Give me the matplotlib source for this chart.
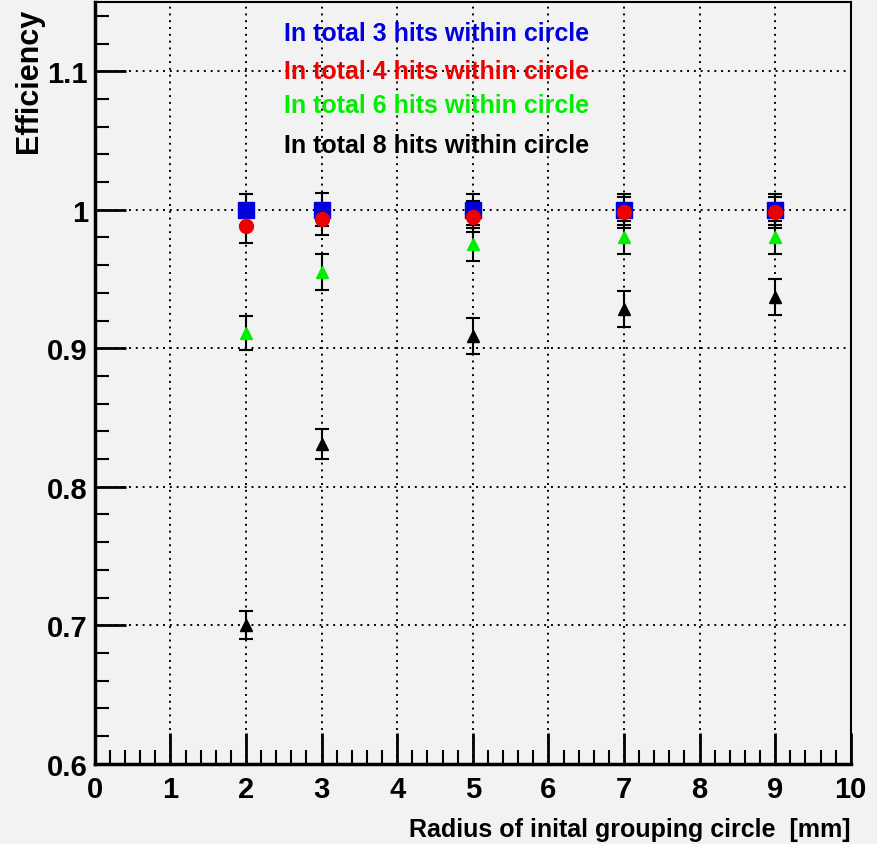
import matplotlib
matplotlib.use('Agg')
import matplotlib.pyplot as plt
from matplotlib.ticker import MultipleLocator

# radius of initial grouping circle [mm]
radius = [2, 3, 5, 7, 9]

eff_3hits = [1.000, 1.000, 1.000, 1.000, 1.000]
err_3hits = [0.011, 0.012, 0.011, 0.011, 0.011]
eff_4hits = [0.988, 0.993, 0.995, 0.998, 0.998]
err_4hits = [0.012, 0.011, 0.011, 0.011, 0.011]
eff_6hits = [0.911, 0.955, 0.975, 0.980, 0.980]
err_6hits = [0.012, 0.013, 0.012, 0.012, 0.012]
eff_8hits = [0.700, 0.831, 0.909, 0.928, 0.937]
err_8hits = [0.010, 0.011, 0.013, 0.013, 0.013]

labels = ['In total 3 hits within circle', 'In total 4 hits within circle',
          'In total 6 hits within circle', 'In total 8 hits within circle']

plt.rcParams['font.family'] = ['Liberation Sans', 'DejaVu Sans']
plt.rcParams['font.weight'] = 'bold'

bg = '#f2f2f2'
fig = plt.figure(figsize=(8.78, 8.45), dpi=100, facecolor=bg)
ax = fig.add_axes([0.108, 0.095, 0.861, 0.9015], facecolor=bg)

series = [
    (eff_8hits, err_8hits, 'black', '^', 9),
    (eff_6hits, err_6hits, '#00ee00', '^', 9),
    (eff_3hits, err_3hits, '#0000dd', 's', 11),
    (eff_4hits, err_4hits, '#ee0000', 'o', 10),
]
for y, e, c, m, s in series:
    ax.errorbar(radius, y, yerr=e, fmt=m, color=c, ms=s, ecolor='black',
                elinewidth=1.5, capsize=5, capthick=1.5, zorder=3)

ax.set_xlim(0, 10)
ax.set_ylim(0.6, 1.15)
ax.xaxis.set_major_locator(MultipleLocator(1))
ax.xaxis.set_minor_locator(MultipleLocator(0.2))
ax.yaxis.set_major_locator(MultipleLocator(0.1))
ax.yaxis.set_minor_locator(MultipleLocator(0.02))
ax.tick_params(which='major', direction='in', length=22, width=2, labelsize=21,
               top=False, right=False)
ax.tick_params(which='minor', direction='in', length=10, width=1.5,
               top=False, right=False)
ax.tick_params(axis='x', pad=8)
ax.tick_params(axis='y', pad=5)
ax.set_yticks([0.6, 0.7, 0.8, 0.9, 1.0, 1.1])
ax.set_yticklabels(['0.6', '0.7', '0.8', '0.9', '1', '1.1'])
ax.grid(True, which='major', linestyle=(0, (1, 2.5)), color='black', linewidth=1.4)
for sp in ax.spines.values():
    sp.set_linewidth(1.5)
ax.spines['left'].set_linewidth(2.5)
ax.spines['bottom'].set_linewidth(2.5)

ax.set_xlabel('Radius of inital grouping circle  [mm]', fontsize=18,
              fontweight='bold', loc='right', labelpad=10)
fig.text(0.033, 0.99, 'Efficiency', rotation=90, fontsize=22, fontweight='bold',
         ha='center', va='top')

colors = ['#0000dd', '#ee0000', '#00ee00', 'black']
ys = [0.964, 0.919, 0.878, 0.831]
for lab, c, yy in zip(labels, colors, ys):
    fig.text(0.323, yy - 0.004, lab, color=c, fontsize=18, fontweight='bold', va='center')

fig.savefig('out.png', dpi=100, facecolor=bg)
